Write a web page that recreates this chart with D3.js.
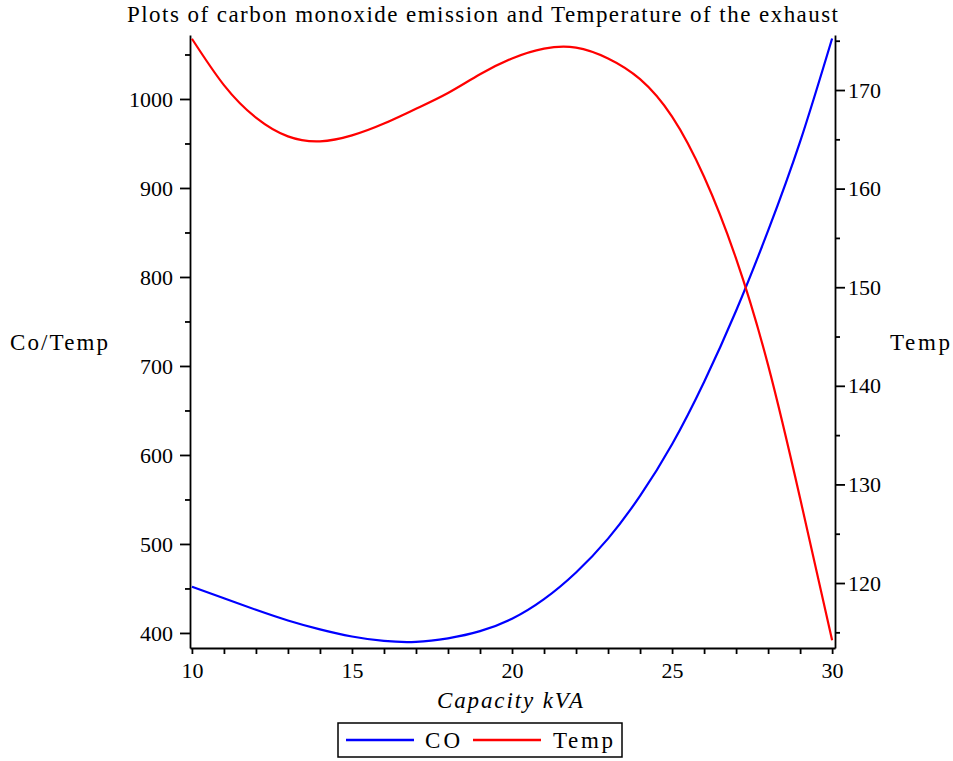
<!DOCTYPE html>
<html>
<head>
<meta charset="utf-8">
<script src="https://cdn.jsdelivr.net/npm/d3@7"></script>
<style>
  body { margin: 0; background: #fff; }
  svg { display: block; font-family: "Liberation Serif", "Times New Roman", serif; }
  .axis text { font-family: "Liberation Serif", "Times New Roman", serif; font-size: 22px; fill: #000; }
  .axis path, .axis line { stroke: #000; stroke-width: 1.8; }
</style>
</head>
<body>
<div id="chart"></div>
<script>
// capacity in kVA
const capacity = [10, 11, 12, 13, 14, 15, 16, 17, 18, 19, 20, 21, 22, 23, 24, 25, 26, 27, 28, 29, 30];
// carbon monoxide emission (left axis)
const co = [452, 439, 426, 414, 404, 396, 391, 390, 394, 402, 416, 438, 468, 506, 554, 612, 682, 762, 852, 952, 1068];
// exhaust temperature (right axis)
const temp = [175.2, 170.5, 167.2, 165.3, 164.8, 165.4, 166.6, 168.1, 169.7, 171.6, 173.2, 174.2, 174.3, 173.2, 171.1, 167.3, 161.2, 152.9, 142.1, 128.6, 114.2];

const xTicks = [10, 15, 20, 25, 30];
const leftTicks = [400, 500, 600, 700, 800, 900, 1000];
const rightTicks = [120, 130, 140, 150, 160, 170];

const width = 953;
const height = 761;

const x = d3.scaleLinear().domain([9.94, 30.09]).range([190, 835]);
const yLeft = d3.scaleLinear().domain([383.1, 1071.9]).range([648, 35]);
const yRight = d3.scaleLinear().domain([113.41, 175.58]).range([648, 35]);

const svg = d3.select("#chart").append("svg")
    .attr("width", width)
    .attr("height", height);

// text helper, Maple spaces its glyphs wider than the font does
function label(px, py, str, len, opts = {}) {
    const t = svg.append("text")
        .attr("x", px)
        .attr("y", py)
        .attr("font-size", opts.size || 23)
        .attr("fill", "#000")
        .attr("textLength", len)
        .attr("lengthAdjust", "spacing")
        .text(str);
    if (opts.italic) t.attr("font-style", "italic");
    return t;
}

label(127, 22, "Plots of carbon monoxide emission and Temperature of the exhaust", 711);

// x axis
const xMinor = d3.range(10, 31).filter(d => d % 5 !== 0);
svg.append("g")
    .attr("class", "axis")
    .attr("transform", "translate(0,648)")
    .call(d3.axisBottom(x).tickValues(xMinor).tickSize(6).tickSizeOuter(0).tickFormat(""))
    .call(g => g.select(".domain").remove());
svg.append("g")
    .attr("class", "axis")
    .attr("transform", "translate(0,648)")
    .call(d3.axisBottom(x).tickValues(xTicks).tickSize(6).tickSizeOuter(0).tickPadding(8)
        .tickFormat(d3.format("d")))
    .call(g => g.selectAll("text").attr("dy", "0.71em"));

// left axis
const leftMinor = d3.range(450, 1100, 100);
svg.append("g")
    .attr("class", "axis")
    .attr("transform", "translate(190,0)")
    .call(d3.axisLeft(yLeft).tickValues(leftMinor).tickSize(5).tickSizeOuter(0).tickFormat(""))
    .call(g => g.select(".domain").remove());
svg.append("g")
    .attr("class", "axis")
    .attr("transform", "translate(190,0)")
    .call(d3.axisLeft(yLeft).tickValues(leftTicks).tickSize(10).tickSizeOuter(0).tickPadding(7)
        .tickFormat(d3.format("d")));

// right axis
const rightMinor = d3.range(115, 180, 10);
svg.append("g")
    .attr("class", "axis")
    .attr("transform", "translate(835,0)")
    .call(d3.axisRight(yRight).tickValues(rightMinor).tickSize(5).tickSizeOuter(0).tickFormat(""))
    .call(g => g.select(".domain").remove());
svg.append("g")
    .attr("class", "axis")
    .attr("transform", "translate(835,0)")
    .call(d3.axisRight(yRight).tickValues(rightTicks).tickSize(10).tickSizeOuter(0).tickPadding(3)
        .tickFormat(d3.format("d")));

// curves
const coLine = d3.line()
    .x((d, i) => x(capacity[i]))
    .y(d => yLeft(d))
    .curve(d3.curveNatural);
const tempLine = d3.line()
    .x((d, i) => x(capacity[i]))
    .y(d => yRight(d))
    .curve(d3.curveNatural);

svg.append("path")
    .attr("d", coLine(co))
    .attr("fill", "none")
    .attr("stroke", "#0000ff")
    .attr("stroke-width", 2.2);
svg.append("path")
    .attr("d", tempLine(temp))
    .attr("fill", "none")
    .attr("stroke", "#ff0000")
    .attr("stroke-width", 2.2);

// axis titles
label(437, 708, "Capacity kVA", 146, {italic: true});
label(10, 350, "Co/Temp", 98);
label(890, 350, "Temp", 60);

// legend
svg.append("rect")
    .attr("x", 338)
    .attr("y", 723)
    .attr("width", 284)
    .attr("height", 34)
    .attr("fill", "#fff")
    .attr("stroke", "#000")
    .attr("stroke-width", 1.5);

const legend = [
    {name: "CO", color: "#0000ff", x0: 346, tx: 425, len: 35},
    {name: "Temp", color: "#ff0000", x0: 473, tx: 553, len: 60}
];
legend.forEach(d => {
    svg.append("line")
        .attr("x1", d.x0)
        .attr("x2", d.x0 + 68)
        .attr("y1", 740)
        .attr("y2", 740)
        .attr("stroke", d.color)
        .attr("stroke-width", 2.5);
    label(d.tx, 748, d.name, d.len);
});
</script>
</body>
</html>
